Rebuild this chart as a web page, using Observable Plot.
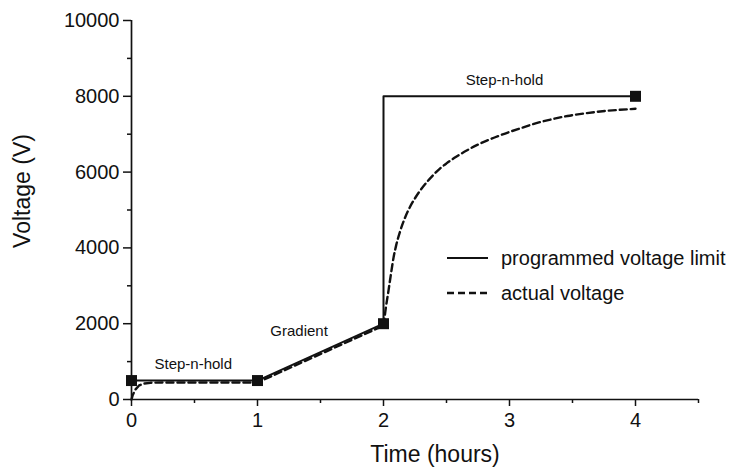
<!DOCTYPE html>
<html>
<head>
<meta charset="utf-8">
<script src="https://cdn.jsdelivr.net/npm/d3@7"></script>
<script src="https://cdn.jsdelivr.net/npm/@observablehq/plot@0.6"></script>
<style>
  html, body { margin: 0; padding: 0; background: #fff; }
  #chart svg { display: block; }
</style>
</head>
<body>
<div id="chart"></div>
<script>
// Programmed voltage limit (solid line)
const progTime = [0, 1, 2, 2, 4];
const progVolt = [500, 500, 2000, 8000, 8000];

// Programmed set points (square markers)
const markTime = [0, 1, 2, 4];
const markVolt = [500, 500, 2000, 8000];

// Actual voltage (dashed line)
const actTime = [0, 0.01, 0.03, 0.06, 0.1, 0.15, 0.25, 1.0, 2.0,
  2.01, 2.02, 2.04, 2.06, 2.08, 2.1, 2.135, 2.17, 2.21, 2.25, 2.29, 2.345, 2.40, 2.45, 2.5,
  2.58, 2.66, 2.74, 2.82, 2.91, 3.0, 3.1, 3.2, 3.33, 3.46, 3.6, 3.72, 3.86, 4.0];
const actVolt = [0, 120, 260, 370, 420, 440, 450, 450, 1950,
  2200, 2450, 2880, 3330, 3750, 4060, 4470, 4790, 5080, 5310, 5510, 5740, 5940, 6100, 6230,
  6410, 6570, 6710, 6830, 6950, 7060, 7170, 7280, 7390, 7480, 7550, 7600, 7640, 7670];

// Annotations (anchored in data coordinates)
const annText = ["Step-n-hold", "Gradient", "Step-n-hold"];
const annTime = [0.49, 1.33, 2.96];
const annVolt = [940, 1800, 8420];

// Axis ticks
const xMajor = [0, 1, 2, 3, 4];
const xMinor = [0.5, 1.5, 2.5, 3.5, 4.5];
const yMajor = [0, 2000, 4000, 6000, 8000, 10000];
const yMinor = [1000, 3000, 5000, 7000, 9000];

const legendItems = ["programmed voltage limit", "actual voltage"];

const prog = progTime.map((t, i) => ({t, v: progVolt[i]}));
const marks = markTime.map((t, i) => ({t, v: markVolt[i]}));
const actual = actTime.map((t, i) => ({t, v: actVolt[i]}));
const ann = annText.map((s, i) => ({s, t: annTime[i], v: annVolt[i]}));

const FONT = "'Liberation Sans', Arial, Helvetica, sans-serif";
const DASH = "7,4";

const chart = Plot.plot({
  width: 736,
  height: 473,
  marginLeft: 131,
  marginRight: 38,
  marginTop: 20,
  marginBottom: 74,
  style: {fontFamily: FONT, background: "#fff", color: "#111"},
  x: {domain: [0, 4.5]},
  y: {domain: [0, 10000]},
  marks: [
    Plot.axisX({ticks: xMajor, tickSize: 7, tickPadding: 6, fontSize: 20, strokeWidth: 1.5, label: null, tickFormat: d => String(d)}),
    Plot.axisX({ticks: xMinor, tickSize: 4, strokeWidth: 1.5, label: null, tickFormat: () => ""}),
    Plot.axisY({ticks: yMajor, tickSize: 8, tickPadding: 4, fontSize: 20, strokeWidth: 1.5, label: null, tickFormat: d => String(d)}),
    Plot.axisY({ticks: yMinor, tickSize: 4, strokeWidth: 1.5, label: null, tickFormat: () => ""}),
    Plot.ruleX([0], {stroke: "#111", strokeWidth: 1.7}),
    Plot.ruleY([0], {stroke: "#111", strokeWidth: 1.7}),
    Plot.text(["Voltage (V)"], {frameAnchor: "left", textAnchor: "middle", dx: -109, dy: -19, rotate: -90, fontSize: 23, fill: "#111"}),
    Plot.text(["Time (hours)"], {frameAnchor: "bottom", textAnchor: "middle", dx: 20, dy: 62, fontSize: 23, fill: "#111"}),
    // actual voltage: linear up to the end of the gradient, smooth relaxation afterwards
    Plot.line(actual.filter(d => d.t <= 2), {x: "t", y: "v", curve: "linear", stroke: "#111", strokeWidth: 2.4, strokeDasharray: DASH}),
    Plot.line(actual.filter(d => d.t >= 2), {x: "t", y: "v", curve: "monotone-x", stroke: "#111", strokeWidth: 2.4, strokeDasharray: DASH}),
    Plot.line(prog, {x: "t", y: "v", stroke: "#111", strokeWidth: 2}),
    Plot.dot(marks, {x: "t", y: "v", symbol: "square", r: 6.2, fill: "#111", stroke: "none"}),
    Plot.text(ann, {x: "t", y: "v", text: "s", fontSize: 15, fill: "#111"})
  ]
});

document.getElementById("chart").appendChild(chart);

// In-plot legend
const svg = d3.select(chart);
const lg = svg.append("g")
  .attr("font-family", FONT).attr("font-size", 20).attr("fill", "#111").attr("text-anchor", "start");
const rows = [{y: 258, dash: null}, {y: 293, dash: DASH}];
legendItems.forEach((label, i) => {
  const r = rows[i];
  lg.append("line").attr("x1", 447).attr("x2", 488).attr("y1", r.y).attr("y2", r.y)
    .attr("stroke", "#111").attr("stroke-width", i ? 2.4 : 2).attr("stroke-dasharray", r.dash);
  lg.append("text").attr("x", 501).attr("y", r.y).attr("dy", "0.35em").attr("text-anchor", "start").text(label);
});
</script>
</body>
</html>
